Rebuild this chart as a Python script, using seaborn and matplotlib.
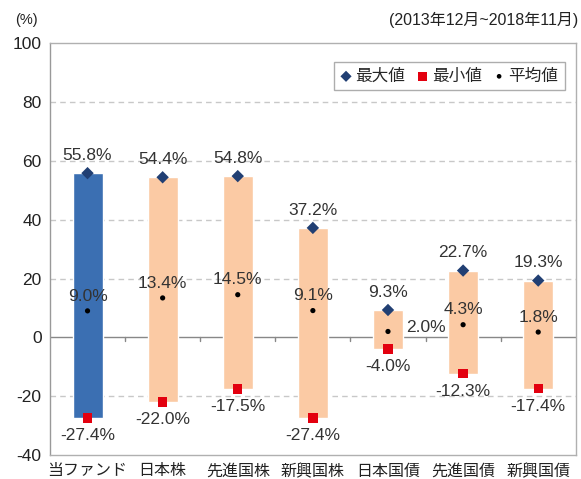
import matplotlib.pyplot as plt
import matplotlib
import numpy as np
import pandas as pd
import seaborn as sns

categories = ['当ファンド', '日本株', '先進国株', '新興国株', '日本国債', '先進国債', '新興国債']
max_vals = [55.8, 54.4, 54.8, 37.2, 9.3, 22.7, 19.3]
min_vals = [-27.4, -22.0, -17.5, -27.4, -4.0, -12.3, -17.4]
mean_vals = [9.0, 13.4, 14.5, 9.1, 2.0, 4.3, 1.8]

sns.set_style('white')
plt.rcParams['font.family'] = ['Liberation Sans', 'Noto Sans CJK JP']
matplotlib.rcParams['axes.unicode_minus'] = False

df = pd.DataFrame({'cat': categories, 'max': max_vals, 'min': min_vals, 'mean': mean_vals})
x = np.arange(len(categories))

fig = plt.figure(figsize=(5.81, 4.79), dpi=100)
ax = fig.add_axes([0.086, 0.050, 0.905, 0.860])

bar_colors = ['#3b6fb2'] + ['#fbcaa4'] * 6
ax.bar(x, df['max'] - df['min'], bottom=df['min'], width=0.4, color=bar_colors, zorder=2)

sns.scatterplot(x=x, y=df['max'], marker='D', color='#213f73', s=40, edgecolor='none', ax=ax, zorder=3, label='最大値')
sns.scatterplot(x=x, y=df['min'], marker='s', color='#e3000f', s=45, edgecolor='none', ax=ax, zorder=3, label='最小値')
sns.scatterplot(x=x, y=df['mean'], marker='o', color='black', s=14, edgecolor='none', ax=ax, zorder=3, label='平均値')

fs = 12.5
tc = '#333333'
for i in range(len(categories)):
    ax.text(x[i], max_vals[i] + 3.5, '{:.1f}%'.format(max_vals[i]), ha='center', va='bottom', fontsize=fs, color=tc, zorder=4)
    ax.text(x[i], min_vals[i] - 3.5, '{:.1f}%'.format(min_vals[i]), ha='center', va='top', fontsize=fs, color=tc, zorder=4)
    if i == 4:
        ax.text(x[i] + 0.5, mean_vals[i] + 1.5, '{:.1f}%'.format(mean_vals[i]), ha='center', va='center', fontsize=fs, color=tc, zorder=4)
    else:
        ax.text(x[i], mean_vals[i] + 2.5, '{:.1f}%'.format(mean_vals[i]), ha='center', va='bottom', fontsize=fs, color=tc, zorder=4)

ax.set_xlim(-0.5, 6.5)
ax.set_ylim(-40, 100)
ax.set_yticks(range(-40, 101, 20))
ax.set_xticks(x)
ax.set_xticklabels(categories, fontsize=11.5, color='#222222')
ax.set_xlabel('')
ax.set_ylabel('')
ax.tick_params(axis='x', length=0, pad=6)
ax.tick_params(axis='y', length=0, labelsize=12.5, labelcolor='#222222', pad=6)

for v in [-20, 20, 40, 60, 80]:
    ax.axhline(v, color='#c8c8c8', linestyle=(0, (4, 3)), linewidth=1, zorder=1)
ax.axhline(0, color='#888888', linewidth=1, zorder=1)
for b in np.arange(0.5, 6.5, 1):
    ax.plot([b, b], [0, -1.3], color='#888888', linewidth=1, zorder=1)

for s in ax.spines.values():
    s.set_color('#b0b0b0')
    s.set_linewidth(1)
ax.spines['left'].set_color('#999999')

leg = ax.legend(loc='upper right', ncol=3, fontsize=12, frameon=True, fancybox=False,
                handlelength=0.7, handletextpad=0.2, columnspacing=0.7, borderpad=0.4,
                markerscale=0.9, bbox_to_anchor=(0.995, 0.975))
leg.get_frame().set_edgecolor('#999999')
leg.get_frame().set_linewidth(1)

fig.text(0.045, 0.958, '(%)', fontsize=10.5, ha='center', va='center', color='#222222')
fig.text(0.995, 0.958, '(2013年12月~2018年11月)', fontsize=11.5, ha='right', va='center', color='#222222')

fig.savefig('out.png', dpi=100)
plt.close()
